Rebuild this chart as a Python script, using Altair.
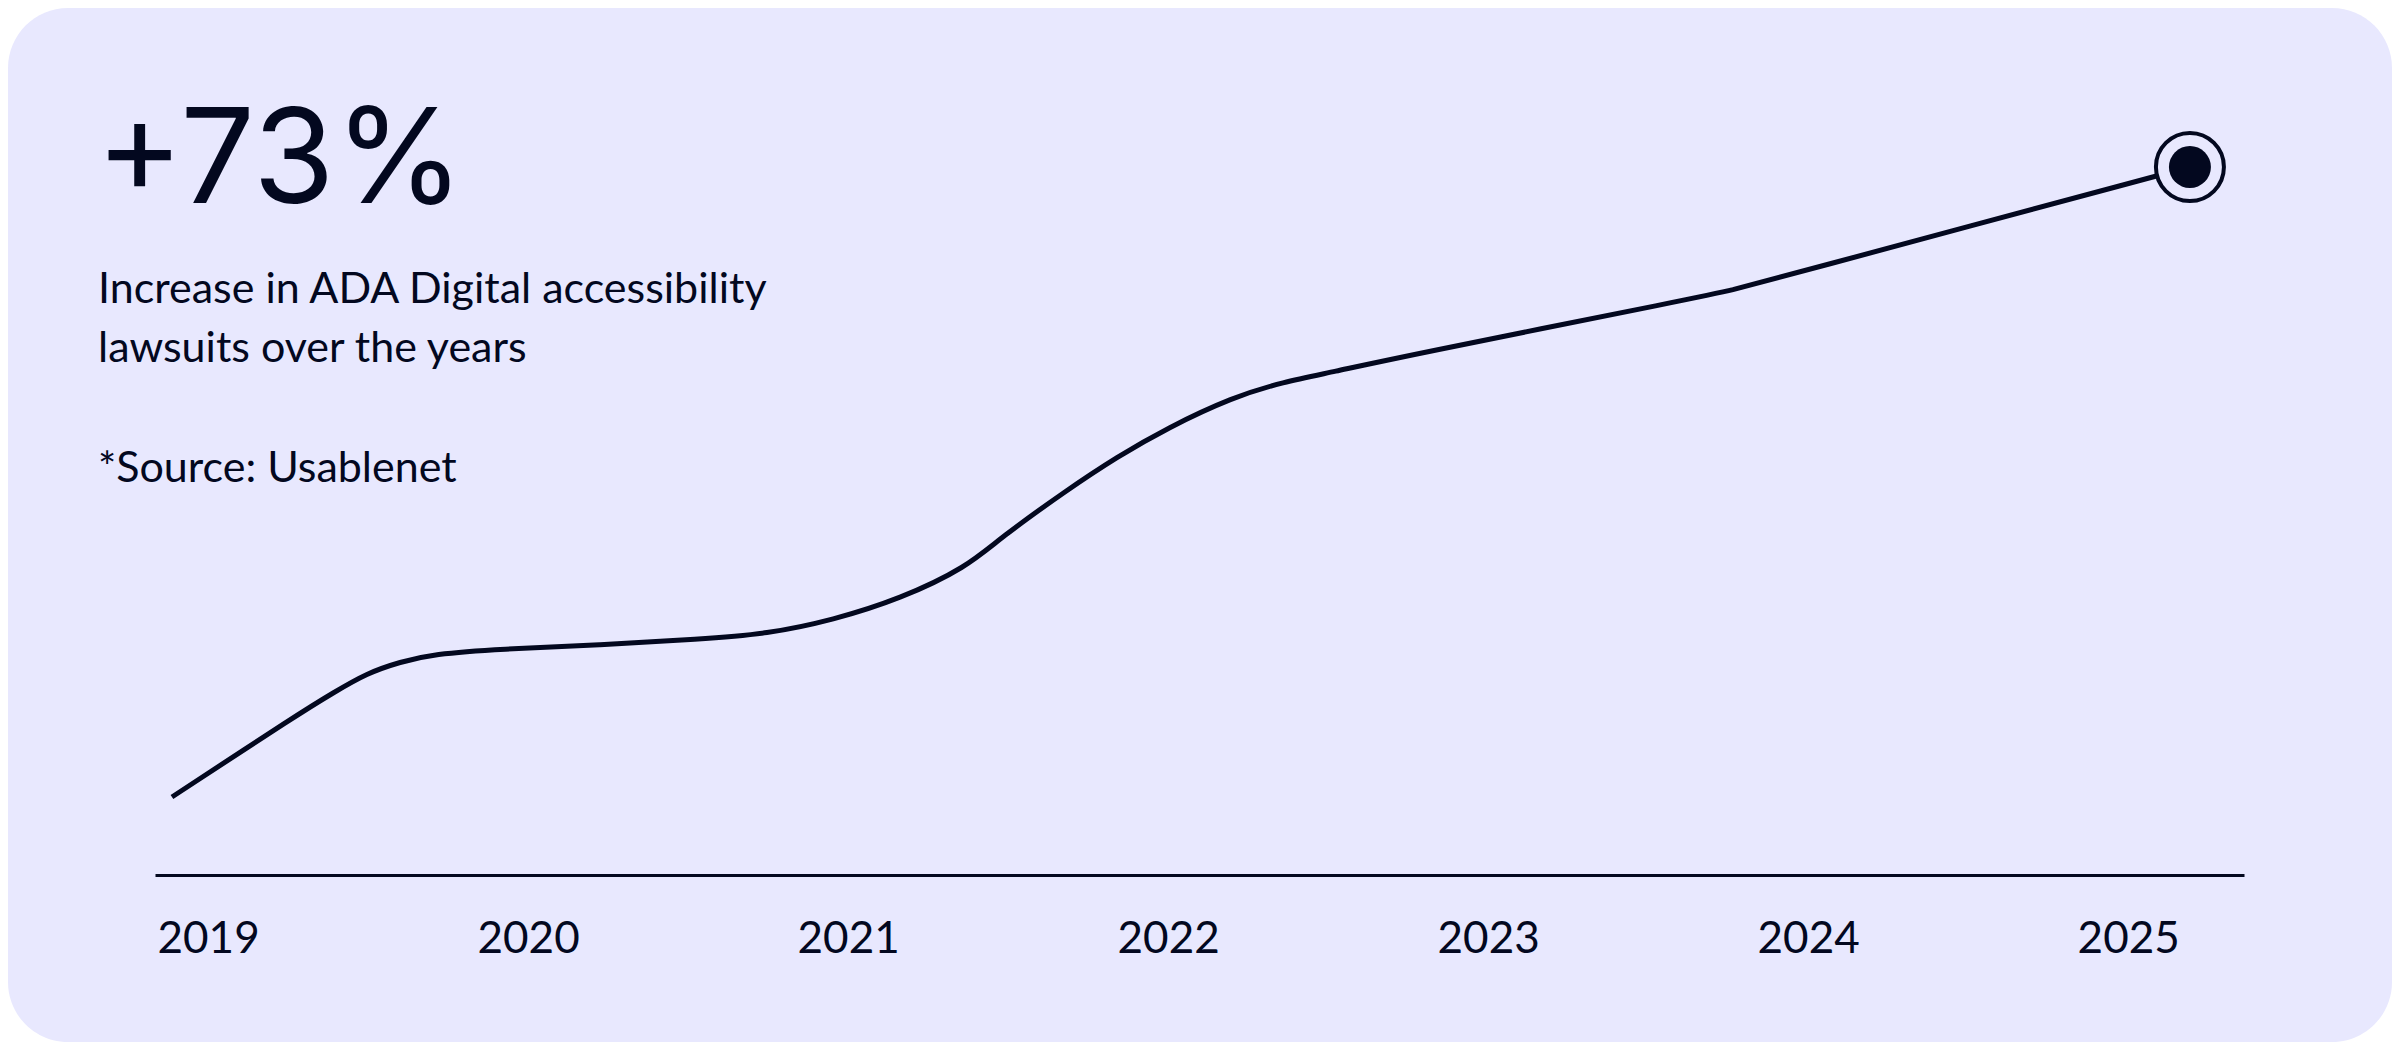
import altair as alt
import pandas as pd

# ---- data ----
years_x = [2018.887, 2019.287, 2019.390, 2019.497, 2019.600, 2019.703, 2019.912, 2020.225,
           2020.537, 2020.747, 2020.953, 2021.162, 2021.372, 2021.475, 2021.684, 2021.840,
           2021.997, 2022.203, 2022.359, 2022.515, 2022.725, 2023.662, 2023.765, 2023.868,
           2025.193]
values = [78, 162, 182, 202, 213, 221, 226, 230,
          236, 241, 255, 276, 308, 337, 385, 418,
          447, 478, 493, 503, 518, 578, 585, 594,
          708]
tick_years = [2019, 2020, 2021, 2022, 2023, 2024, 2025]
headline = ["+73%"]
subtitle_lines = ["Increase in ADA Digital accessibility", "lawsuits over the years"]
source_line = ["*Source: Usablenet"]

INK = "#03081F"
CARD = "#E8E8FE"
W, H = 2089, 775
PAD = {"left": 147, "top": 92, "right": 148, "bottom": 167}

df = pd.DataFrame({"year": years_x, "value": values})
end_df = df.iloc[[-1]].reset_index(drop=True)

xscale = alt.Scale(domain=[2018.834, 2025.362], nice=False, zero=False)
yscale = alt.Scale(domain=[0, H], nice=False, zero=True)

card = alt.Chart(pd.DataFrame({"k": [0]})).mark_rect(
    fill=CARD, cornerRadius=60
).encode(
    x=alt.value(-PAD["left"]),
    x2=alt.value(W + PAD["right"]),
    y=alt.value(-PAD["top"]),
    y2=alt.value(H + PAD["bottom"]),
)

line = alt.Chart(df).mark_line(
    color=INK, strokeWidth=5, interpolate="basis"
).encode(
    x=alt.X(
        "year:Q",
        scale=xscale,
        axis=alt.Axis(
            values=tick_years,
            format="d",
            title=None,
            grid=False,
            ticks=False,
            tickSize=0,
            domainColor=INK,
            domainWidth=3,
            labelColor=INK,
            labelFont="Lato",
            labelFontSize=44,
            labelBaseline="alphabetic",
            labelPadding=77,
            labelFlush=False,
            zindex=1,
        ),
    ),
    y=alt.Y("value:Q", scale=yscale, axis=None),
)

ring = alt.Chart(end_df).mark_point(
    shape="circle", filled=True, fill=CARD, stroke=INK, strokeWidth=4, size=4624, opacity=1
).encode(x=alt.X("year:Q", scale=xscale), y=alt.Y("value:Q", scale=yscale))

dot = alt.Chart(end_df).mark_point(
    shape="circle", filled=True, fill=INK, size=1764, opacity=1, strokeWidth=0
).encode(x=alt.X("year:Q", scale=xscale), y=alt.Y("value:Q", scale=yscale))

head = alt.Chart(pd.DataFrame({"t": headline})).mark_text(
    font="Inter", fontSize=132, fontWeight=400, color=INK, align="left", baseline="alphabetic"
).encode(text="t:N", x=alt.value(-59), y=alt.value(103))

sub = alt.Chart(pd.DataFrame({"t": ["\n".join(subtitle_lines)]})).mark_text(
    font="Lato", fontSize=43, color=INK, align="left", baseline="alphabetic",
    lineBreak="\n", lineHeight=59
).encode(text="t:N", x=alt.value(-57), y=alt.value(203))

src = alt.Chart(pd.DataFrame({"t": source_line})).mark_text(
    font="Lato", fontSize=43, color=INK, align="left", baseline="alphabetic"
).encode(text="t:N", x=alt.value(-57), y=alt.value(382))

chart = alt.layer(card, line, ring, dot, head, sub, src).properties(
    width=W,
    height=H,
    padding=PAD,
    autosize=alt.AutoSizeParams(type="none"),
    background="white",
).configure_view(strokeWidth=0)

chart.save("out.html", embed_options={"renderer": "svg", "actions": False})
